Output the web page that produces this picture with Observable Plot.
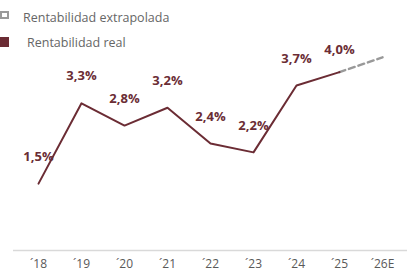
<!DOCTYPE html>
<html><head><meta charset="utf-8">
<script src="https://cdn.jsdelivr.net/npm/d3@7"></script>
<script src="https://cdn.jsdelivr.net/npm/@observablehq/plot@0.6"></script>
<style>
body{margin:0;background:#fff;font-family:"Open Sans",sans-serif}
#wrap{position:relative;width:415px;height:279px}
#legend{position:absolute;left:0;top:0;width:200px;height:55px;font-size:12.5px;color:#666;line-height:17px}
#legend div, #legend span{position:absolute;white-space:nowrap;box-sizing:border-box}
#wrap svg{position:absolute;left:0;top:0}
</style></head>
<body><div id="wrap">
<div id="legend">
  <div style="left:0;top:11px;width:9px;height:8px;border:2px dashed #9a9a9a"></div>
  <span style="left:23px;top:9px">Rentabilidad extrapolada</span>
  <div style="left:0;top:37px;width:9px;height:10px;background:#6b2c34"></div>
  <span style="left:27px;top:34px">Rentabilidad real</span>
</div>
</div>
<script>
const years = ["´18","´19","´20","´21","´22","´23","´24","´25","´26E"];
const realYears = ["´18","´19","´20","´21","´22","´23","´24","´25"];
const realValues = [1.5, 3.3, 2.8, 3.2, 2.4, 2.2, 3.7, 4.0];
const realLabels = ["1,5%","3,3%","2,8%","3,2%","2,4%","2,2%","3,7%","4,0%"];
const extraYears = ["´25","´26E"];
const extraValues = [4.0, 4.33];

const real = realYears.map((y,i)=>({year:y, value:realValues[i], label:realLabels[i]}));
const extra = extraYears.map((y,i)=>({year:y, value:extraValues[i]}));
const maroon = "#6b2c34";

const chart = Plot.plot({
  width: 415, height: 279,
  marginLeft: 13, marginRight: 8, marginTop: 27, marginBottom: 29,
  style: {fontFamily: "'Open Sans', sans-serif", fontSize: "12px", background: "transparent"},
  x: {type: "point", domain: years, padding: 0.5, label: null},
  y: {domain: [0, 5], axis: null},
  marks: [
    Plot.ruleY([0], {stroke: "#d9d9d9", strokeWidth: 1.5}),
    Plot.axisX({tickSize: 0, tickPadding: 9, fontSize: 12, color: "#595959"}),
    Plot.line(extra, {x: "year", y: "value", stroke: "#999999", strokeWidth: 2.5, strokeDasharray: "6,4"}),
    Plot.line(real, {x: "year", y: "value", stroke: maroon, strokeWidth: 2}),
    Plot.text(real.filter(d => d.year !== "´25"), {x: "year", y: "value", text: "label", dy: -27, fill: "#6b2d35", fontWeight: "bold", fontSize: 13}),
    Plot.text(real.filter(d => d.year === "´25"), {x: "year", y: "value", text: "label", dy: -22, fill: "#6b2d35", fontWeight: "bold", fontSize: 13})
  ]
});
document.getElementById("wrap").appendChild(chart);
</script>
</body></html>
